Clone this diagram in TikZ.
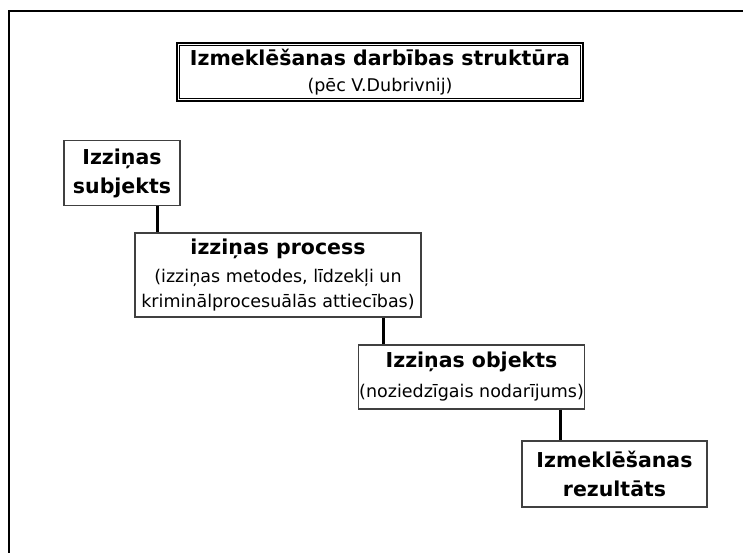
\documentclass[tikz,border=0pt]{standalone}
\usepackage{fontspec}
\setmainfont{DejaVu Sans}
\usetikzlibrary{arrows.meta}
\newcommand{\hd}{\fontsize{20.5}{29}\selectfont\bfseries}
\newcommand{\tx}{\fontsize{17.5}{25}\selectfont\mdseries}

\begin{document}
\begin{tikzpicture}[x=1pt, y=-1pt,
    box/.style={draw=black!75, line width=1.3pt, inner sep=0pt, align=center},
    link/.style={line width=3pt}]
\useasboundingbox (0,0) rectangle (743,553);

    % frame
    \draw[line width=2pt] (9,553) -- (9,11) -- (743,11);

    \node[box, draw=black, line width=2.4pt, minimum width=406pt, minimum height=58pt, font=\tx] (0) at (380,72) {{\hd Izmeklēšanas darbības struktūra}\\[1pt](pēc V.Dubrivnij)};
    \draw[line width=1pt] ([xshift=3.5pt, yshift=-3.5pt]0.north west) rectangle ([xshift=-3.5pt, yshift=3.5pt]0.south east);

    \node[box, minimum width=116pt, minimum height=65pt, font=\hd] (1) at (122,173) {Izziņas\\subjekts};
    \node[box, minimum width=286pt, minimum height=84pt, font=\tx] (2) at (278,275) {{\hd izziņas process}\\[3pt](izziņas metodes, līdzekļi un\\kriminālprocesuālās attiecības)};
    \node[box, minimum width=226pt, minimum height=64pt, font=\tx] (3) at (471.5,377) {{\hd Izziņas objekts}\\[5pt](noziedzīgais nodarījums)};
    \node[box, minimum width=185pt, minimum height=66pt, font=\hd] (4) at (614.5,474) {Izmeklēšanas\\rezultāts};

    \coordinate (k1) at (157,0);
    \coordinate (k2) at (383,0);
    \coordinate (k3) at (560,0);

    \draw[link] (1.south -| k1) -- (2.north -| k1);
    \draw[link] (2.south -| k2) -- (3.north -| k2);
    \draw[link] (3.south -| k3) -- (4.north -| k3);

\end{tikzpicture}
\end{document}
